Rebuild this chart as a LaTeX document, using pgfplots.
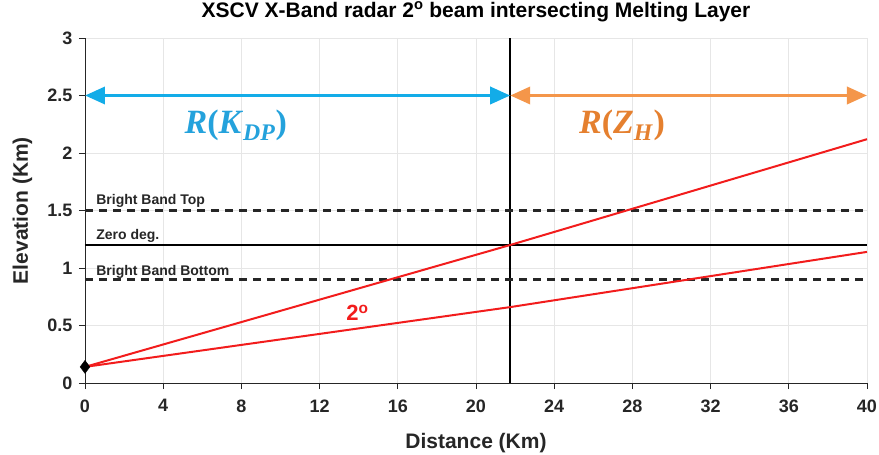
\documentclass[border=0pt]{standalone}
\usepackage{fontspec}
\setmainfont{Liberation Sans}
\newfontfamily\serifb{Liberation Serif}
\usepackage{pgfplots}
\pgfplotsset{compat=1.18}
\usetikzlibrary{arrows.meta}
\definecolor{axgray}{HTML}{262626}
\definecolor{gridgray}{HTML}{E6E6E6}
\definecolor{kblue}{HTML}{13ACE8}
\definecolor{kbluetext}{HTML}{24A2DC}
\definecolor{zorange}{HTML}{F4964A}
\definecolor{ztext}{HTML}{E5802F}
\definecolor{lred}{HTML}{F21C1C}
\begin{document}
\begin{tikzpicture}
\path[use as bounding box] (-85pt,-72pt) rectangle (794pt,383pt);
\begin{axis}[
  at={(0,0)}, anchor=south west,
  scale only axis, width=782pt, height=345pt,
  xmin=0, xmax=40, ymin=0, ymax=3,
  xtick={0,4,...,40}, ytick={0,0.5,1,1.5,2,2.5,3},
  axis x line*=bottom, axis y line*=left,
  axis line style={axgray, line width=0.9pt, -},
  tick style={axgray, line width=0.9pt},
  tick align=outside, major tick length=6pt,
  grid=major, major grid style={gridgray, line width=0.7pt},
  ticklabel style={font=\bfseries\fontsize{18}{18}\selectfont, text=axgray},
  xticklabel style={yshift=-7pt},
  yticklabel style={xshift=-3pt},
  /pgf/number format/assume math mode=true,
  xlabel={Distance (Km)}, ylabel={Elevation (Km)},
  label style={font=\bfseries\fontsize{21}{21}\selectfont, text=axgray},
  xlabel style={at={(axis description cs:0.5,-0.174)}, anchor=center},
  ylabel style={at={(axis description cs:-0.080,0.5)}, anchor=center},
  title={XSCV X-Band radar 2\textsuperscript{o} beam intersecting Melting Layer},
  title style={font=\bfseries\fontsize{21}{21}\selectfont, at={(axis description cs:0.5,1.058)}, anchor=center},
  clip=false,
]
\addplot[black, line width=2pt] coordinates {(21.75,0) (21.75,3)};
\addplot[black, line width=2.4pt] coordinates {(0,1.2) (40,1.2)};
\addplot[axgray, line width=2.4pt, dash pattern=on 8pt off 6pt] coordinates {(0,1.5) (40,1.5)};
\addplot[axgray, line width=2.4pt, dash pattern=on 8pt off 6pt] coordinates {(0,0.9) (40,0.9)};
\addplot[lred, line width=2pt] coordinates {(0,0.14) (21.75,1.2) (40,2.12)};
\addplot[lred, line width=2pt] coordinates {(0,0.14) (21.75,0.66) (40,1.14)};
\addplot[kblue, line width=3.5pt, {Triangle[length=20pt,width=17pt]}-{Triangle[length=20pt,width=17pt]}] coordinates {(0,2.5) (21.75,2.5)};
\addplot[zorange, line width=3.5pt, {Triangle[length=20pt,width=17pt]}-{Triangle[length=20pt,width=17pt]}] coordinates {(21.75,2.5) (40,2.5)};
\addplot[only marks, mark=diamond*, mark size=6.5pt, black] coordinates {(0,0.14)};
\node[anchor=west, font=\bfseries\fontsize{14}{14}\selectfont, text=axgray] at (axis cs:0.4,1.58) {Bright Band Top};
\node[anchor=west, font=\bfseries\fontsize{14}{14}\selectfont, text=axgray] at (axis cs:0.4,1.28) {Zero deg.};
\node[anchor=west, font=\bfseries\fontsize{14}{14}\selectfont, text=axgray] at (axis cs:0.4,0.97) {Bright Band Bottom};
\node[font=\serifb\bfseries\fontsize{34}{34}\selectfont, text=kbluetext] at (axis cs:7.71,2.24) {\textit{R}(\textit{K}\textsubscript{\textit{DP}})};
\node[font=\serifb\bfseries\fontsize{34}{34}\selectfont, text=ztext] at (axis cs:27.47,2.24) {\textit{R}(\textit{Z}\textsubscript{\textit{H}})};
\node[font=\bfseries\fontsize{22}{22}\selectfont, text=lred] at (axis cs:13.94,0.61) {2\textsuperscript{o}};
\end{axis}
\end{tikzpicture}
\end{document}
